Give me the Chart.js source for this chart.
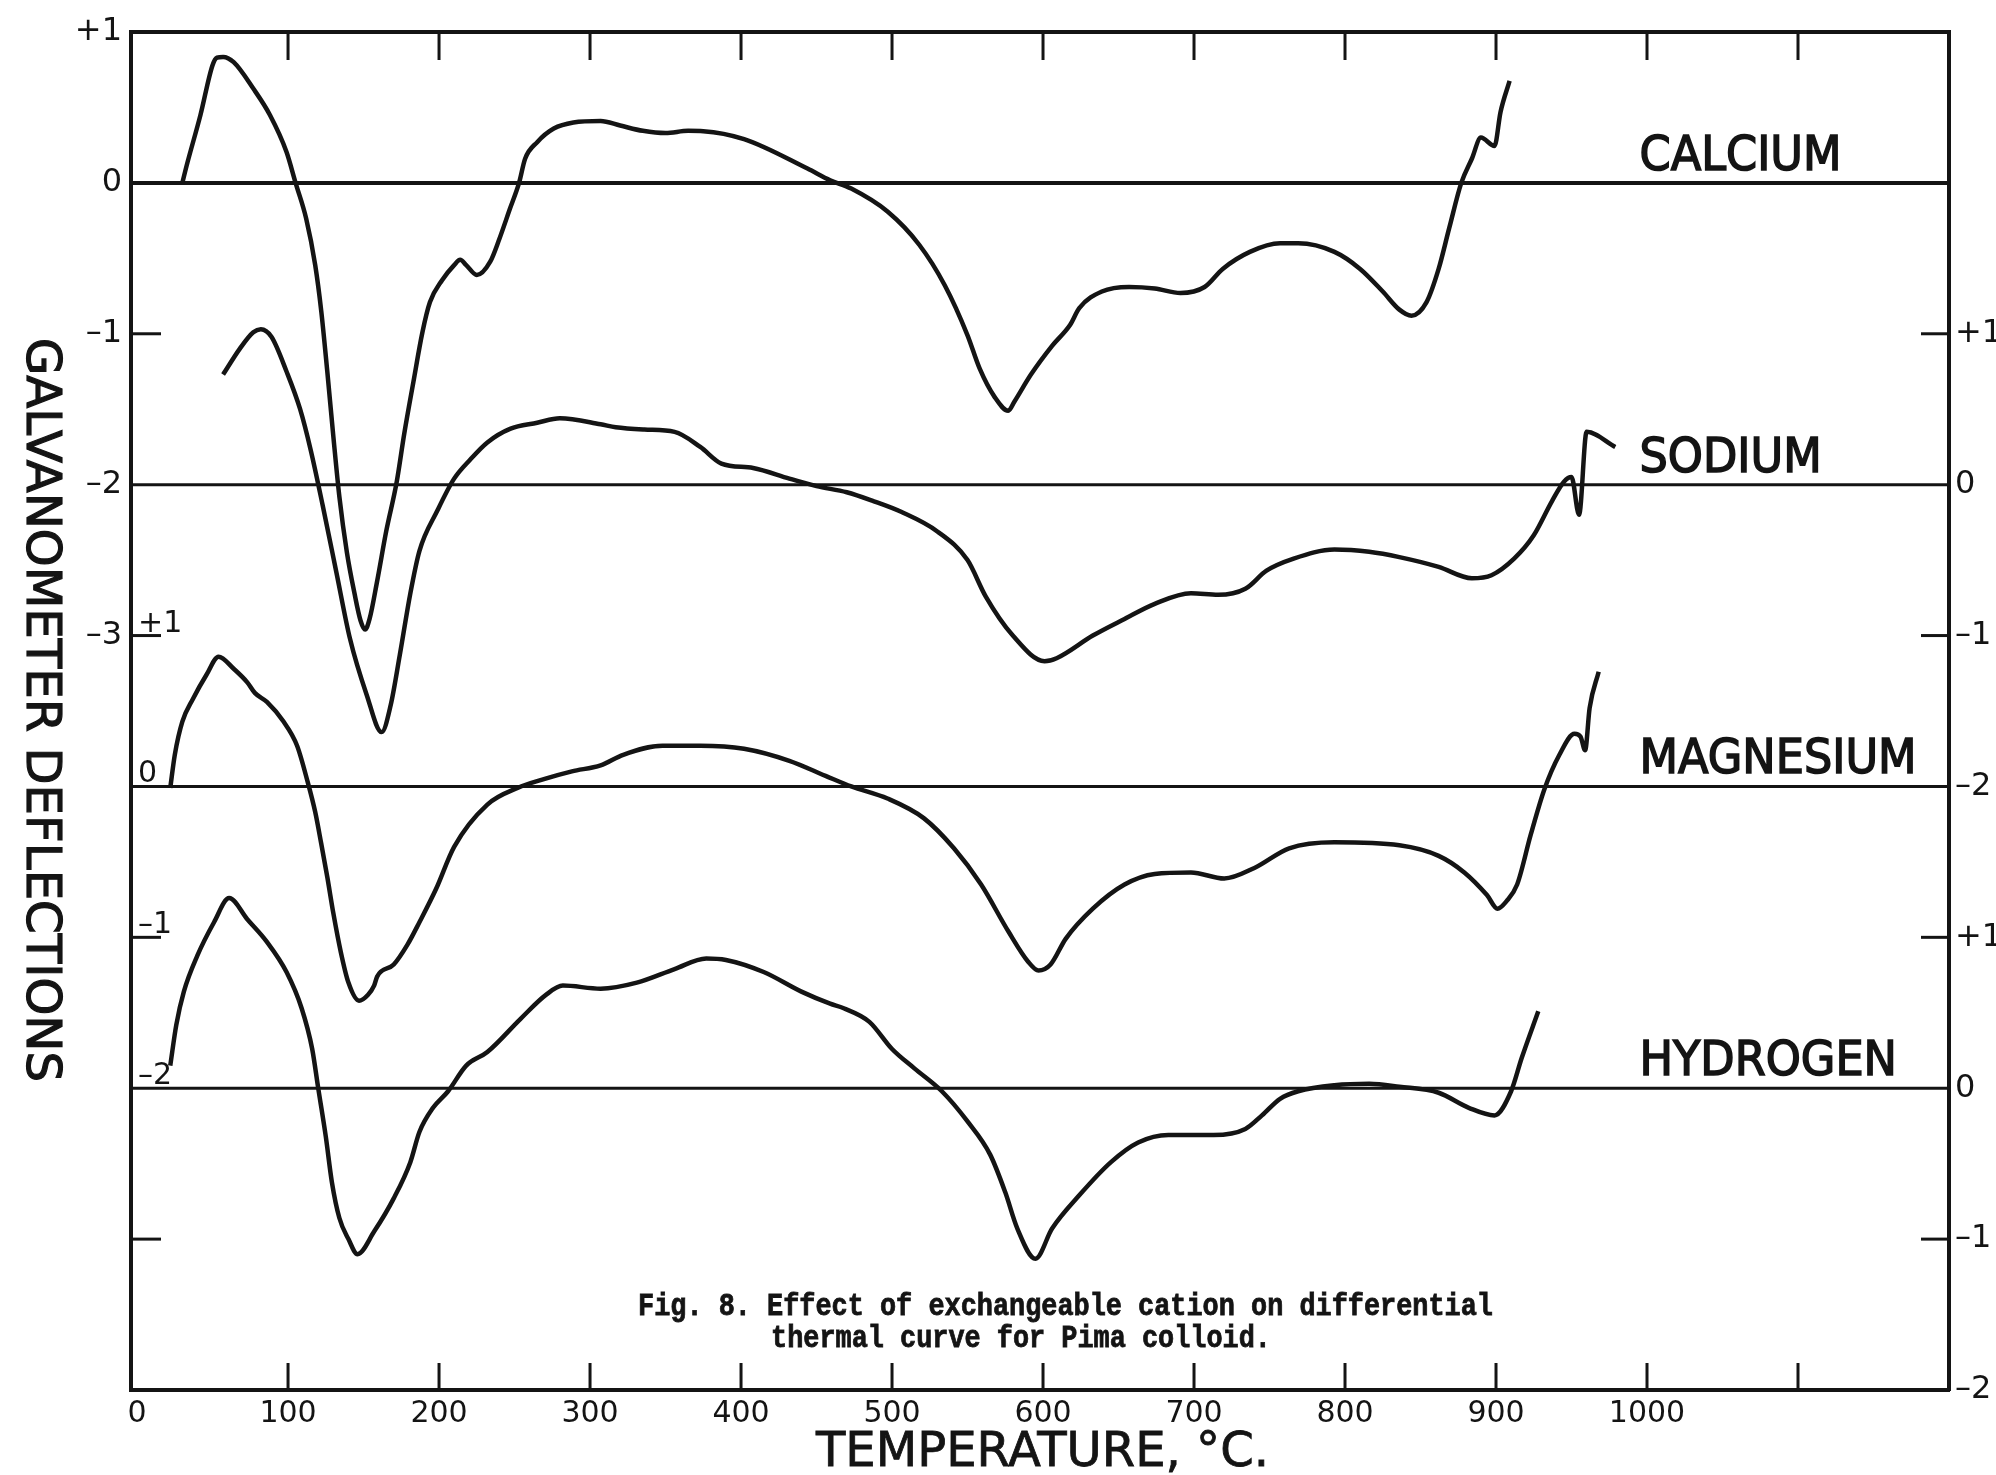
<!DOCTYPE html>
<html>
<head>
<meta charset="utf-8">
<script src="https://cdn.jsdelivr.net/npm/chart.js@4.4.1/dist/chart.umd.min.js"></script>
<style>
  html, body { margin: 0; padding: 0; background: #fff; }
  canvas { display: block; }
</style>
</head>
<body>
<canvas id="chart" width="1996" height="1475"></canvas>
<script>
// Temperature (deg C) and galvanometer deflection, each curve shifted to its own baseline
var caTemp = [30,33,42,50,53,57,64,77,88,99,105,112,118,122,126,130,134,139,144,148,151,154,159,165,172,177,183,189,194,202,210,214,218,225,234,240,247,253,257,265,276,289,307,320,335,350,365,375,402,444,459,473,497,518,535,550,558,568,577,581,592,606,618,624,639,657,674,691,707,719,737,757,769,793,810,825,836,844,854,862,869,877,884,890,899,903,909];
var caDefl = [0,0.12,0.45,0.78,0.83,0.835,0.80,0.625,0.45,0.205,0,-0.236,-0.545,-0.85,-1.25,-1.68,-2.08,-2.45,-2.72,-2.90,-2.96,-2.89,-2.64,-2.31,-1.98,-1.66,-1.32,-0.99,-0.79,-0.645,-0.545,-0.51,-0.545,-0.61,-0.52,-0.37,-0.17,0,0.16,0.27,0.36,0.40,0.41,0.38,0.345,0.33,0.345,0.343,0.29,0.095,0.018,-0.038,-0.19,-0.41,-0.68,-1.01,-1.23,-1.42,-1.51,-1.45,-1.27,-1.08,-0.94,-0.83,-0.72,-0.69,-0.70,-0.73,-0.69,-0.57,-0.457,-0.40,-0.40,-0.457,-0.57,-0.72,-0.84,-0.88,-0.79,-0.57,-0.30,0,0.16,0.30,0.245,0.47,0.676];

var naTemp = [57,68,77,82,89,99,108,115,123,132,141,152,162,168,174,181,187,199,210,221,232,247,265,280,307,317,336,356,373,387,408,432,450,470,488,506,530,550,562,580,601,609,633,654,674,698,716,734,748,766,793,816,836,862,884,897,912,925,937,945,950,955,960,979];
var naDefl = [-1.27,-1.10,-0.99,-0.97,-1.02,-1.25,-1.50,-1.77,-2.14,-2.58,-3.02,-3.39,-3.64,-3.46,-3.13,-2.72,-2.44,-2.17,-1.96,-1.83,-1.72,-1.63,-1.59,-1.56,-1.60,-1.62,-1.635,-1.65,-1.75,-1.86,-1.89,-1.96,-2.01,-2.05,-2.11,-2.18,-2.31,-2.50,-2.74,-3.0,-3.17,-3.15,-3.0,-2.89,-2.79,-2.72,-2.73,-2.69,-2.57,-2.49,-2.43,-2.445,-2.48,-2.545,-2.62,-2.60,-2.49,-2.335,-2.11,-1.98,-1.95,-2.20,-1.65,-1.75];

var mgTemp = [22,25,30,37,46,54,64,73,78,86,97,106,113,118,122,126,130,135,140,147,153,157,159,170,179,187,198,210,232,252,270,288,307,322,348,373,402,432,456,473,497,521,541,559,577,590,597,605,615,633,654,674,698,720,740,763,793,836,862,879,894,901,907,914,923,932,942,952,956,959,962,968];
var mgDefl = [-4.01,-3.79,-3.57,-3.42,-3.26,-3.14,-3.22,-3.31,-3.38,-3.44,-3.57,-3.73,-3.97,-4.17,-4.38,-4.60,-4.84,-5.10,-5.30,-5.42,-5.38,-5.32,-5.26,-5.18,-5.05,-4.90,-4.68,-4.40,-4.12,-4.01,-3.95,-3.90,-3.86,-3.79,-3.73,-3.73,-3.75,-3.83,-3.93,-4.0,-4.08,-4.21,-4.41,-4.65,-4.96,-5.16,-5.22,-5.18,-5.01,-4.81,-4.65,-4.58,-4.57,-4.61,-4.54,-4.41,-4.37,-4.39,-4.46,-4.57,-4.72,-4.81,-4.76,-4.65,-4.32,-4.02,-3.79,-3.65,-3.67,-3.76,-3.48,-3.24];

var hTemp = [22,26,31,40,51,61,73,86,99,109,116,120,125,129,134,140,146,157,170,181,187,196,206,218,232,254,271,282,307,331,356,377,390,415,440,459,468,485,500,515,533,550,565,575,583,595,606,624,645,663,683,713,734,745,757,769,793,816,836,862,882,899,910,917,928];
var hDefl = [-5.85,-5.58,-5.36,-5.12,-4.90,-4.74,-4.88,-5.03,-5.23,-5.47,-5.74,-6.00,-6.32,-6.62,-6.86,-7.00,-7.10,-6.95,-6.73,-6.49,-6.29,-6.13,-6.02,-5.85,-5.76,-5.54,-5.38,-5.32,-5.34,-5.30,-5.21,-5.14,-5.15,-5.23,-5.36,-5.44,-5.47,-5.56,-5.74,-5.87,-6.02,-6.22,-6.44,-6.69,-6.93,-7.13,-6.93,-6.71,-6.49,-6.36,-6.31,-6.31,-6.27,-6.18,-6.07,-6.02,-5.98,-5.97,-5.99,-6.03,-6.13,-6.18,-6.02,-5.80,-5.49];

// zero line of each curve and its name
var seriesNames = ['CALCIUM', 'SODIUM', 'MAGNESIUM', 'HYDROGEN'];
var baselineLevels = [0, -2, -4, -6];

// tick labels
var xTickValues = [0,100,200,300,400,500,600,700,800,900,1000];
var xTickMarks = [100,200,300,400,500,600,700,800,900,1000,1100];
var leftTickValues = [1, 0, -1, -2, -3];
var leftTickText = ['+1', '0', '\u20131', '\u20132', '\u20133'];
var rightTickValues = [-1, -2, -3, -4, -5, -6, -7, -8];
var rightTickText = ['+1', '0', '\u20131', '\u20132', '+1', '0', '\u20131', '\u20132'];
var innerTickValues = [-3, -4, -5, -6];
var innerTickText = ['+1', '0', '\u20131', '\u20132'];
var sideTickMarks = [-1, -3, -5, -7];

var xTitle = 'TEMPERATURE, \u00b0C.';
var yTitle = 'GALVANOMETER DEFLECTIONS';
var captionLines = ['Fig. 8. Effect of exchangeable cation on differential',
                    'thermal curve for Pima colloid.'];

var ink = '#141414';
var xStart = -4, xEnd = 1200;

function pairs(xs, ys) {
	return xs.map(function(t, i) { return { x: t, y: ys[i] }; });
}

function curve(xs, ys) {
	return {
		data: pairs(xs, ys),
		borderColor: ink,
		borderWidth: 4.5,
		pointRadius: 0,
		cubicInterpolationMode: 'monotone',
		fill: false
	};
}

function baseline(level, width) {
	return {
		data: [{ x: xStart, y: level }, { x: xEnd, y: level }],
		borderColor: ink,
		borderWidth: width,
		pointRadius: 0,
		tension: 0,
		fill: false
	};
}

var datasets = [
	curve(caTemp, caDefl),
	curve(naTemp, naDefl),
	curve(mgTemp, mgDefl),
	curve(hTemp, hDefl)
];
baselineLevels.forEach(function(level, i) {
	datasets.push(baseline(level, i === 0 ? 4 : 3));
});

// draw text squeezed to a given width, slightly thickened
function fitText(ctx, text, x, y, font, width, angle, weight) {
	ctx.save();
	ctx.font = font;
	var w = ctx.measureText(text).width;
	ctx.translate(x, y);
	if (angle) ctx.rotate(angle);
	ctx.scale(width / w, 1);
	ctx.textAlign = 'left';
	ctx.textBaseline = 'alphabetic';
	ctx.fillStyle = ink;
	ctx.fillText(text, 0, 0);
	if (weight) {
		ctx.strokeStyle = ink;
		ctx.lineWidth = weight;
		ctx.strokeText(text, 0, 0);
	}
	ctx.restore();
}

function seg(ctx, x1, y1, x2, y2) {
	ctx.beginPath();
	ctx.moveTo(x1, y1);
	ctx.lineTo(x2, y2);
	ctx.stroke();
}

var decor = {
	id: 'decor',
	afterDatasetsDraw: function(chart) {
		var ctx = chart.ctx, a = chart.chartArea;
		var xs = chart.scales.x, ys = chart.scales.y;
		ctx.save();
		ctx.strokeStyle = ink;
		ctx.lineWidth = 3;
		xTickMarks.forEach(function(t) {
			var px = xs.getPixelForValue(t);
			seg(ctx, px, a.top, px, a.top + 28);
			seg(ctx, px, a.bottom, px, a.bottom - 27);
		});
		sideTickMarks.forEach(function(v) {
			var py = ys.getPixelForValue(v);
			seg(ctx, a.left, py, a.left + 30, py);
			seg(ctx, a.right - 28, py, a.right, py);
		});

		// inner scale for the lower pair of curves
		ctx.fillStyle = ink;
		ctx.font = '30px "DejaVu Sans"';
		ctx.textAlign = 'left';
		ctx.textBaseline = 'alphabetic';
		innerTickValues.forEach(function(v, i) {
			ctx.fillText(innerTickText[i], a.left + 7, ys.getPixelForValue(v) - 4);
		});
		ctx.restore();

		// curve names
		var nx = xs.getPixelForValue(995);
		seriesNames.forEach(function(name, i) {
			ctx.save();
			ctx.font = '48px "DejaVu Sans"';
			ctx.fillStyle = ink;
			ctx.strokeStyle = ink;
			ctx.lineWidth = 1.6;
			ctx.translate(nx, ys.getPixelForValue(baselineLevels[i]) - 13);
			ctx.scale(0.93, 1);
			ctx.fillText(name, 0, 0);
			ctx.strokeText(name, 0, 0);
			ctx.restore();
		});
	},
	afterDraw: function(chart) {
		var ctx = chart.ctx;
		fitText(ctx, xTitle, 816, 1466, '48px "DejaVu Sans"', 453, 0, 0.8);
		fitText(ctx, yTitle, 27, 338, '48px "DejaVu Sans"', 744, Math.PI / 2, 1.2);
		fitText(ctx, captionLines[0], 638, 1315, 'bold 31px "Liberation Mono"', 855, 0, 0.8);
		fitText(ctx, captionLines[1], 771, 1347, 'bold 31px "Liberation Mono"', 500, 0, 0.8);
	}
};

var tickFont = { family: 'DejaVu Sans', size: 32 };

var ctx = document.getElementById('chart').getContext('2d');
var chart = new Chart(ctx, {
	type: 'line',
	data: { datasets: datasets },
	plugins: [decor],
	options: {
		responsive: false,
		animation: false,
		devicePixelRatio: 1,
		layout: { padding: 0 },
		plugins: {
			legend: { display: false },
			tooltip: { enabled: false }
		},
		scales: {
			x: {
				type: 'linear',
				position: 'bottom',
				min: xStart,
				max: xEnd,
				afterFit: function(s) { s.height = 85; },
				afterBuildTicks: function(s) {
					s.ticks = xTickValues.map(function(v) { return { value: v }; });
				},
				ticks: {
					color: ink,
					font: { family: 'DejaVu Sans', size: 30 },
					padding: 6,
					maxRotation: 0,
					autoSkip: false,
					callback: function(v) { return String(v); }
				},
				grid: { display: false, drawTicks: false },
				border: { display: true, color: ink, width: 4 }
			},
			xTop: {
				type: 'linear',
				position: 'top',
				min: xStart,
				max: xEnd,
				afterFit: function(s) { s.height = 32; },
				ticks: { display: false },
				grid: { display: false, drawTicks: false },
				border: { display: true, color: ink, width: 4 }
			},
			y: {
				type: 'linear',
				position: 'left',
				min: -8,
				max: 1,
				afterFit: function(s) { s.width = 131; },
				afterBuildTicks: function(s) {
					s.ticks = leftTickValues.map(function(v) { return { value: v }; });
				},
				ticks: {
					color: ink,
					font: tickFont,
					padding: 9,
					autoSkip: false,
					callback: function(v) {
						var i = leftTickValues.indexOf(v);
						return i < 0 ? '' : leftTickText[i];
					}
				},
				grid: { display: false, drawTicks: false },
				border: { display: true, color: ink, width: 4 }
			},
			yRight: {
				type: 'linear',
				position: 'right',
				min: -8,
				max: 1,
				afterFit: function(s) { s.width = 47; },
				afterBuildTicks: function(s) {
					s.ticks = rightTickValues.map(function(v) { return { value: v }; });
				},
				ticks: {
					color: ink,
					font: tickFont,
					padding: 6,
					autoSkip: false,
					callback: function(v) {
						var i = rightTickValues.indexOf(v);
						return i < 0 ? '' : rightTickText[i];
					}
				},
				grid: { display: false, drawTicks: false },
				border: { display: true, color: ink, width: 4 }
			}
		}
	}
});
</script>
</body>
</html>
